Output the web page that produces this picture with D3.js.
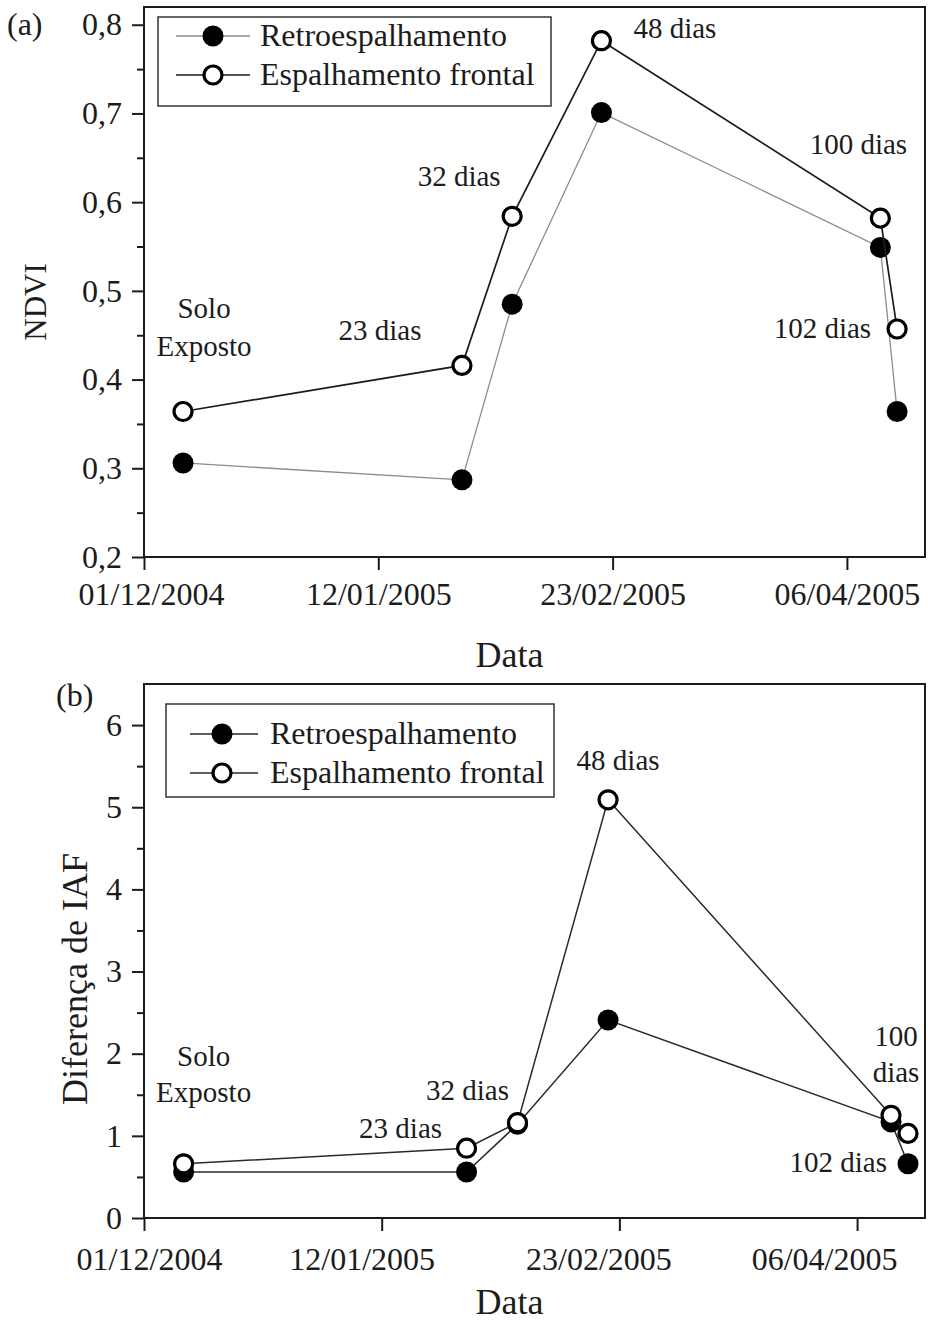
<!DOCTYPE html>
<html>
<head>
<meta charset="utf-8">
<script src="https://cdn.jsdelivr.net/npm/d3@7"></script>
<style>
	body { margin: 0; background: #fff; }
	svg { display: block; font-family: "Liberation Serif", "Times New Roman", serif; }
</style>
</head>
<body>
<svg width="928" height="1324"></svg>
<script>
var dates = ["2004-12-08", "2005-01-27", "2005-02-05", "2005-02-21", "2005-04-12", "2005-04-15"];
var phases = ["Solo|Exposto", "23 dias", "32 dias", "48 dias", "100 dias", "102 dias"];
var phasesB = ["Solo|Exposto", "23 dias", "32 dias", "48 dias", "100|dias", "102 dias"];
var seriesNames = ["Retroespalhamento", "Espalhamento frontal"];

var ndviRetro = [0.306, 0.287, 0.485, 0.701, 0.549, 0.364];
var ndviFrontal = [0.364, 0.416, 0.584, 0.782, 0.582, 0.457];
var iafRetro = [0.56, 0.56, 1.14, 2.41, 1.17, 0.66];
var iafFrontal = [0.66, 0.85, 1.16, 5.09, 1.25, 1.03];

var xTicks = ["2004-12-01", "2005-01-12", "2005-02-23", "2005-04-06"];
var ndviTicks = [0.2, 0.3, 0.4, 0.5, 0.6, 0.7, 0.8];
var iafTicks = [0, 1, 2, 3, 4, 5, 6];

var parse = d3.timeParse("%Y-%m-%d"),
	fmtDate = d3.timeFormat("%d/%m/%Y"),
	br = d3.formatLocale({decimal: ",", thousands: ".", grouping: [3], currency: ["", ""]}),
	svg = d3.select("svg"),
	ink = "#1c1c1c";

function start(){

	drawPanel({
		tag: "(a)", tagX: 7, tagY: 35,
		left: 144, right: 925, top: 7, bottom: 557,
		xEnd: "2005-04-20", yDomain: [0.2, 0.82],
		yTicks: ndviTicks, yMinorStep: 0.05, yFmt: br.format(".1f"),
		yLabel: "NDVI", yLabelX: 46, yLabelY: 302, yLabelSize: 31,
		xPad: 12.5, xLabelY: 667, xShift: [7, 0, 0, 0],
		retro: ndviRetro, frontal: ndviFrontal, labels: phases,
		retroColor: "#8c8c8c", retroWidth: 1.3, frontalColor: ink, frontalWidth: 1.7,
		legend: {x0: 158, x1: 551, y0: 17, y1: 106, rows: [36, 75], l0: 176, l1: 250, mk: 213, tx: 260},
		notes: [
			{dx: 21, dy: [-104, -66], anchor: "middle"},
			{dx: -82, dy: [-35], anchor: "middle"},
			{dx: -53, dy: [-40], anchor: "middle"},
			{dx: 32, dy: [-13], anchor: "start"},
			{dx: -22, dy: [-74], anchor: "middle"},
			{dx: -26, dy: [-1], anchor: "end"}
		]
	});

	drawPanel({
		tag: "(b)", tagX: 56, tagY: 706,
		left: 144, right: 925, top: 684, bottom: 1218,
		xEnd: "2005-04-18", yDomain: [0, 6.5],
		yTicks: iafTicks, yMinorStep: 0.5, yFmt: d3.format("d"),
		yLabel: "Diferença de IAF", yLabelX: 87, yLabelY: 979, yLabelSize: 36,
		xPad: 16.5, xLabelY: 1314, xShift: [5, -20, -21, -33],
		retro: iafRetro, frontal: iafFrontal, labels: phasesB,
		retroColor: "#2a2a2a", retroWidth: 1.5, frontalColor: "#2a2a2a", frontalWidth: 1.5,
		legend: {x0: 166, x1: 554, y0: 704, y1: 797, rows: [734, 773], l0: 190, l1: 258, mk: 222, tx: 270},
		notes: [
			{dx: 20, dy: [-108, -72], anchor: "middle"},
			{dx: -66, dy: [-20], anchor: "middle"},
			{dx: -50, dy: [-33], anchor: "middle"},
			{dx: 10, dy: [-40], anchor: "middle"},
			{dx: 5, dy: [-79, -43], anchor: "middle"},
			{dx: -21, dy: [29], anchor: "end"}
		]
	});
}

function drawPanel(p){
	var x = d3.scaleTime().domain([parse("2004-12-01"), parse(p.xEnd)]).range([p.left, p.right]),
		y = d3.scaleLinear().domain(p.yDomain).range([p.bottom, p.top]),
		g = svg.append("g");

	var minor = d3.range(p.yTicks[0] + p.yMinorStep, p.yDomain[1], p.yMinorStep * 2);

	// axes
	g.append("g")
		.attr("transform", "translate(" + p.left + ",0)")
		.call(d3.axisLeft(y).tickValues(minor).tickSize(7).tickFormat(""))
		.call(styleAxis);

	g.append("g")
		.attr("transform", "translate(" + p.left + ",0)")
		.call(d3.axisLeft(y).tickValues(p.yTicks).tickSize(12).tickPadding(10).tickFormat(p.yFmt))
		.call(styleAxis);

	g.append("g")
		.attr("transform", "translate(0," + p.bottom + ")")
		.call(d3.axisBottom(x).tickValues(xTicks.map(parse)).tickSize(13).tickPadding(p.xPad).tickFormat(fmtDate))
		.call(styleAxis)
		.selectAll("text")
			.attr("dx", function(d, i){ return p.xShift[i]; });

	g.append("rect")
		.attr("x", p.left).attr("y", p.top)
		.attr("width", p.right - p.left).attr("height", p.bottom - p.top)
		.attr("fill", "none").attr("stroke", ink).attr("stroke-width", 2);

	g.append("text")
		.attr("transform", "translate(" + p.yLabelX + "," + p.yLabelY + ") rotate(-90)")
		.attr("text-anchor", "middle").attr("font-size", p.yLabelSize).attr("fill", ink)
		.text(p.yLabel);

	g.append("text")
		.attr("x", (p.left + p.right) / 2 - 25).attr("y", p.xLabelY)
		.attr("text-anchor", "middle").attr("font-size", 36).attr("fill", ink)
		.text("Data");

	g.append("text")
		.attr("x", p.tagX).attr("y", p.tagY)
		.attr("font-size", 32).attr("fill", ink)
		.text(p.tag);

	// series
	var pts = function(vals){
		return vals.map(function(v, i){ return [x(parse(dates[i])), y(v)]; });
	};
	var retroPts = pts(p.retro),
		frontalPts = pts(p.frontal);

	g.append("path")
		.attr("d", d3.line()(retroPts))
		.attr("fill", "none").attr("stroke", p.retroColor).attr("stroke-width", p.retroWidth);
	g.selectAll(".retro").data(retroPts).enter().append("circle")
		.attr("cx", function(d){ return d[0]; }).attr("cy", function(d){ return d[1]; })
		.attr("r", 10.5).attr("fill", "#000");

	g.append("path")
		.attr("d", d3.line()(frontalPts))
		.attr("fill", "none").attr("stroke", p.frontalColor).attr("stroke-width", p.frontalWidth);
	g.selectAll(".frontal").data(frontalPts).enter().append("circle")
		.attr("cx", function(d){ return d[0]; }).attr("cy", function(d){ return d[1]; })
		.attr("r", 9).attr("fill", "#fff").attr("stroke", "#000").attr("stroke-width", 3.2);

	// phase labels, placed around the frontal point
	p.notes.forEach(function(n, i){
		var lines = p.labels[i].split("|"),
			base = frontalPts[i];
		lines.forEach(function(t, j){
			g.append("text")
				.attr("x", base[0] + n.dx).attr("y", base[1] + n.dy[j] + 10)
				.attr("text-anchor", n.anchor).attr("font-size", 29).attr("fill", ink)
				.text(t);
		});
	});

	// legend
	var L = p.legend;
	g.append("rect")
		.attr("x", L.x0).attr("y", L.y0)
		.attr("width", L.x1 - L.x0).attr("height", L.y1 - L.y0)
		.attr("fill", "#fff").attr("stroke", "#333").attr("stroke-width", 1.5);

	seriesNames.forEach(function(name, i){
		var ry = L.rows[i];
		g.append("line")
			.attr("x1", L.l0).attr("x2", L.l1).attr("y1", ry).attr("y2", ry)
			.attr("stroke", i == 0 ? p.retroColor : p.frontalColor)
			.attr("stroke-width", i == 0 ? p.retroWidth : p.frontalWidth);
		if (i == 0) {
			g.append("circle").attr("cx", L.mk).attr("cy", ry).attr("r", 10.5).attr("fill", "#000");
		} else {
			g.append("circle").attr("cx", L.mk).attr("cy", ry).attr("r", 9)
				.attr("fill", "#fff").attr("stroke", "#000").attr("stroke-width", 3.2);
		}
		g.append("text")
			.attr("x", L.tx).attr("y", ry + 10)
			.attr("font-size", 32).attr("fill", ink)
			.text(name);
	});
}

function styleAxis(sel){
	sel.select(".domain").remove();
	sel.selectAll("line").attr("stroke", ink).attr("stroke-width", 2);
	sel.selectAll("text")
		.attr("fill", ink)
		.style("font-family", "'Liberation Serif', 'Times New Roman', serif")
		.style("font-size", "32px");
}

start();
</script>
</body>
</html>
